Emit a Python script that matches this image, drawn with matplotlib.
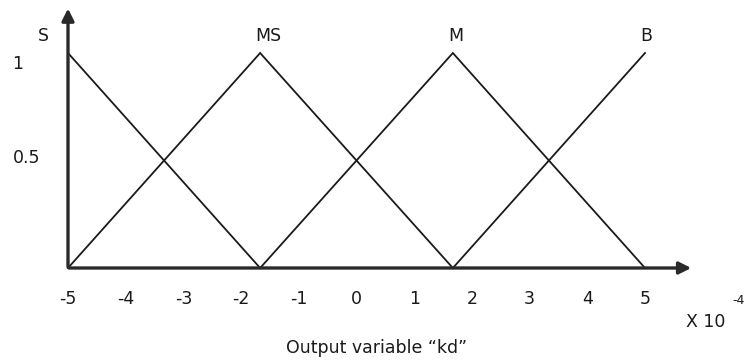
import matplotlib.pyplot as plt

# membership functions of the output variable kd (x in units of 1e-4)
x_ticks = [-5, -4, -3, -2, -1, 0, 1, 2, 3, 4, 5]
s_x, s_y = [-5, -1.67], [1, 0]
ms_x, ms_y = [-5, -1.67, 1.67], [0, 1, 0]
m_x, m_y = [-1.67, 1.67, 5], [0, 1, 0]
b_x, b_y = [1.67, 5], [0, 1]
names = ['S', 'MS', 'M', 'B']
name_x = [-5.43, -1.52, 1.72, 5.03]

fs = 12.5
fig = plt.figure(figsize=(7.47, 3.64), dpi=100)
ax = fig.add_axes([68/747, 96/364, 577/747, 215/364])
ax.set_xlim(-5, 5)
ax.set_ylim(0, 1)

col = '#1a1a1a'
for xs, ys in [(s_x, s_y), (ms_x, ms_y), (m_x, m_y), (b_x, b_y)]:
    ax.plot(xs, ys, color=col, lw=1.3, clip_on=False, solid_joinstyle='miter')

for n, xn in zip(names, name_x):
    ax.text(xn, 1.08, n, ha='center', va='center', fontsize=fs, color=col)

# axes drawn as arrows
ax.annotate('', xy=(5.85, 0), xytext=(-5.03, 0),
            arrowprops=dict(arrowstyle='-|>', lw=2.4, color='#2a2a2a', mutation_scale=18),
            annotation_clip=False)
ax.annotate('', xy=(-5, 1.22), xytext=(-5, -0.007),
            arrowprops=dict(arrowstyle='-|>', lw=2.4, color='#2a2a2a', mutation_scale=18),
            annotation_clip=False)

for sp in ax.spines.values():
    sp.set_visible(False)
ax.set_xticks(x_ticks, [str(t) for t in x_ticks])
ax.tick_params(axis='x', length=0, pad=16, labelsize=fs, labelcolor=col)
ax.set_yticks([0.52, 0.96], ['0.5', '1'])
ax.tick_params(axis='y', length=0, pad=40, labelsize=fs, labelcolor=col)
for lab in ax.get_yticklabels():
    lab.set_horizontalalignment('left')

ax.text(6.05, -0.25, 'X 10', ha='center', va='center', fontsize=fs, color=col)
ax.text(6.62, -0.15, '-4', ha='center', va='center', fontsize=9, color=col)
ax.text(0.35, -0.37, 'Output variable \u201ckd\u201d', ha='center', va='center', fontsize=fs, color=col)

fig.savefig('out.png', dpi=100)
